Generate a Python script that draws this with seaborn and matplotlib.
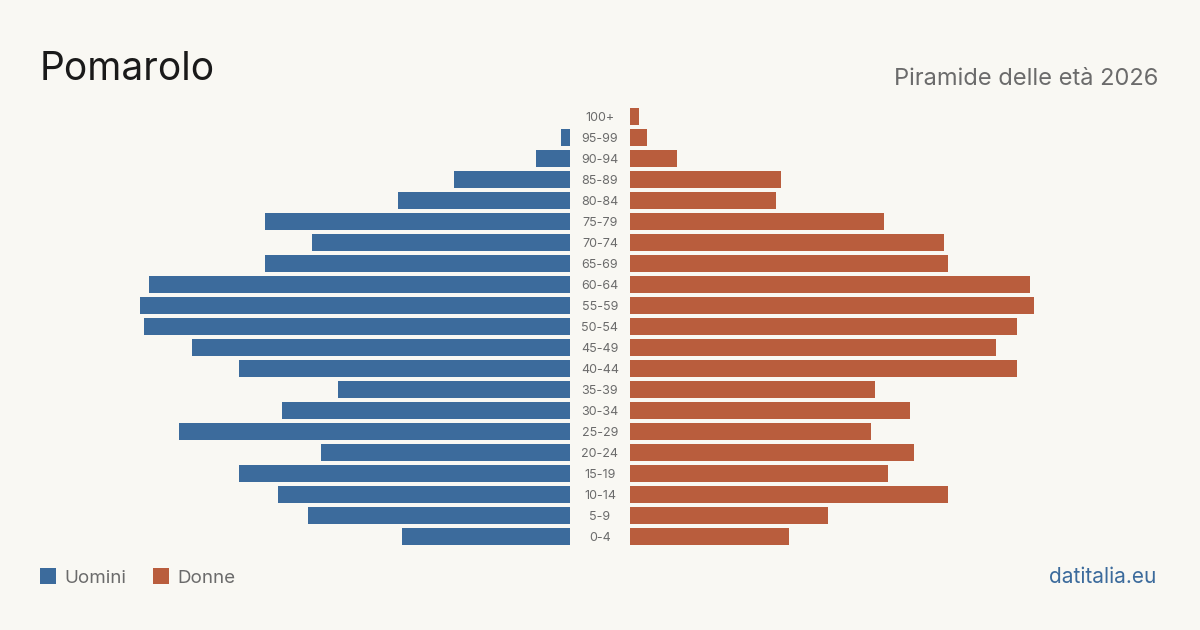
import matplotlib
matplotlib.use("Agg")
import matplotlib.pyplot as plt
import matplotlib.patches as mpatches
from matplotlib.transforms import blended_transform_factory
import seaborn as sns
import pandas as pd

# ---- data ----
age_groups = ["100+", "95-99", "90-94", "85-89", "80-84", "75-79", "70-74", "65-69",
              "60-64", "55-59", "50-54", "45-49", "40-44", "35-39", "30-34", "25-29",
              "20-24", "15-19", "10-14", "5-9", "0-4"]
men = [0, 2, 8, 27, 40, 71, 60, 71, 98, 100, 99, 88, 77, 54, 67, 91, 58, 77, 68, 61, 39]
women = [2, 4, 11, 35, 34, 59, 73, 74, 93, 94, 90, 85, 90, 57, 65, 56, 66, 60, 74, 46, 37]
title = "Pomarolo"
subtitle = "Piramide delle età 2026"
legend_labels = ["Uomini", "Donne"]
source = "datitalia.eu"

BLUE = "#3c6b9c"
ORANGE = "#b95d3d"
BG = "#f9f8f3"

sns.set_theme(style="white")
plt.rcParams["font.family"] = ["Inter", "DejaVu Sans"]

W, H = 1200, 630
fig = plt.figure(figsize=(12, 6.3), dpi=100, facecolor=BG)

px_per_unit = 4.3
ax_bottom = 1 - 547 / H
ax_height = 441 / H
left_x0, left_x1 = 100, 570
right_x0, right_x1 = 630, 1100
xmax = (left_x1 - left_x0) / px_per_unit

ax_l = fig.add_axes([left_x0 / W, ax_bottom, (left_x1 - left_x0) / W, ax_height])
ax_r = fig.add_axes([right_x0 / W, ax_bottom, (right_x1 - right_x0) / W, ax_height])

df = pd.DataFrame({"age": age_groups, "men": men, "women": women})

sns.barplot(data=df, x="men", y="age", order=age_groups, orient="h", color=BLUE,
            saturation=1, width=17 / 21, linewidth=0, edgecolor="none", ax=ax_l)
sns.barplot(data=df, x="women", y="age", order=age_groups, orient="h", color=ORANGE,
            saturation=1, width=17 / 21, linewidth=0, edgecolor="none", ax=ax_r)

ax_l.set_xlim(xmax, 0)
ax_r.set_xlim(0, xmax)
n = len(age_groups)
for ax in (ax_l, ax_r):
    ax.set_ylim(n - 0.5, -0.5)
    ax.set_facecolor("none")
    ax.set_xlabel("")
    ax.set_ylabel("")
    ax.set_xticks([])
    ax.set_yticks([])
    for s in ax.spines.values():
        s.set_visible(False)

trans = blended_transform_factory(fig.transFigure, ax_r.transData)
for i, lab in enumerate(age_groups):
    ax_r.text(600 / W, i + 0.05, lab, transform=trans, ha="center", va="center",
              fontsize=9, color="#6b6b6b")

fig.text(40 / W, 1 - 80 / H, title, fontsize=28, color="#1a1a1a", va="baseline", ha="left")
fig.text(1158 / W, 1 - 85 / H, subtitle, fontsize=17, color="#6b6b6b", va="baseline", ha="right")

# legend
for x0, col, lab in [(40, BLUE, legend_labels[0]), (153, ORANGE, legend_labels[1])]:
    fig.patches.append(mpatches.Rectangle((x0 / W, 1 - 584 / H), 16 / W, 16 / H,
                                          transform=fig.transFigure, facecolor=col,
                                          edgecolor="none"))
    fig.text((x0 + 24) / W, 1 - 583 / H, lab, fontsize=13.5, color="#6b6b6b",
             va="baseline", ha="left")

fig.text(1156 / W, 1 - 583 / H, source, fontsize=15, color="#3c6b9c", va="baseline", ha="right")

fig.savefig("out.png", dpi=100, facecolor=BG)
